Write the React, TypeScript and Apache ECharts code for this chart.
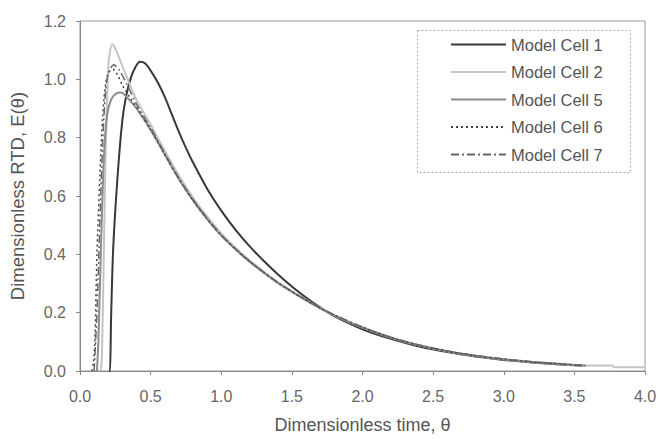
import React, { useEffect, useRef } from "react";
import * as echarts from "echarts";

const seriesNames = ["Model Cell 1", "Model Cell 2", "Model Cell 5", "Model Cell 6", "Model Cell 7"];

const cell1T = [0.205, 0.212, 0.22, 0.235, 0.265, 0.3, 0.33, 0.36, 0.39, 0.425, 0.46, 0.5, 0.55, 0.6, 0.65, 0.7, 0.75, 0.8, 0.9, 1.0, 1.1, 1.2, 1.3, 1.4, 1.5, 1.6, 1.7, 1.8, 2.0, 2.2, 2.4, 2.6, 2.8, 3.0, 3.2, 3.4, 3.55];
const cell1E = [0, 0, 0.18, 0.42, 0.66, 0.86, 0.95, 1.005, 1.04, 1.06, 1.055, 1.03, 0.99, 0.94, 0.88, 0.82, 0.765, 0.715, 0.625, 0.55, 0.485, 0.428, 0.378, 0.332, 0.29, 0.252, 0.218, 0.188, 0.143, 0.11, 0.084, 0.065, 0.05, 0.038, 0.029, 0.022, 0.018];

const cell2T = [0.148, 0.155, 0.165, 0.175, 0.185, 0.195, 0.205, 0.23, 0.255, 0.3, 0.35, 0.4, 0.5, 0.6, 0.7, 0.8, 0.9, 1.0, 1.1, 1.2, 1.3, 1.4, 1.5, 1.6, 1.7, 1.8, 2.0, 2.2, 2.4, 2.6, 2.8, 3.0, 3.2, 3.4, 3.58, 3.77, 3.78, 4.0];
const cell2E = [0, 0.05, 0.3, 0.58, 0.82, 0.98, 1.07, 1.12, 1.1, 1.045, 0.985, 0.93, 0.845, 0.755, 0.67, 0.595, 0.53, 0.472, 0.423, 0.38, 0.341, 0.305, 0.273, 0.244, 0.216, 0.191, 0.149, 0.115, 0.088, 0.068, 0.052, 0.04, 0.031, 0.024, 0.019, 0.019, 0.013, 0.013];

const cell5T = [0.12, 0.13, 0.15, 0.17, 0.19, 0.22, 0.26, 0.29, 0.33, 0.4, 0.5, 0.6, 0.7, 0.8, 0.9, 1.0, 1.1, 1.2, 1.3, 1.4, 1.5, 1.6, 1.7, 1.8, 2.0, 2.2, 2.4, 2.6, 2.8, 3.0, 3.2, 3.4, 3.58];
const cell5E = [0, 0.1, 0.45, 0.74, 0.87, 0.93, 0.953, 0.955, 0.94, 0.9, 0.826, 0.742, 0.658, 0.585, 0.521, 0.464, 0.417, 0.375, 0.337, 0.302, 0.271, 0.242, 0.215, 0.191, 0.149, 0.114, 0.088, 0.068, 0.052, 0.04, 0.031, 0.024, 0.018];

const cell6T = [0.085, 0.095, 0.105, 0.12, 0.14, 0.16, 0.18, 0.2, 0.23, 0.26, 0.3, 0.35, 0.4, 0.5, 0.6, 0.7, 0.8, 0.9, 1.0, 1.1, 1.2, 1.3, 1.4, 1.5, 1.6, 1.7, 1.8, 2.0, 2.2, 2.4, 2.6, 2.8, 3.0, 3.2, 3.4, 3.55];
const cell6E = [0, 0.03, 0.1, 0.4, 0.66, 0.87, 0.98, 1.02, 1.035, 1.02, 0.98, 0.94, 0.905, 0.828, 0.742, 0.658, 0.585, 0.521, 0.465, 0.418, 0.376, 0.338, 0.303, 0.272, 0.243, 0.216, 0.192, 0.15, 0.115, 0.088, 0.068, 0.052, 0.04, 0.031, 0.024, 0.019];

const cell7T = [0.1, 0.12, 0.14, 0.16, 0.18, 0.2, 0.24, 0.28, 0.33, 0.4, 0.5, 0.6, 0.7, 0.8, 0.9, 1.0, 1.1, 1.2, 1.3, 1.4, 1.5, 1.6, 1.7, 1.8, 2.0, 2.2, 2.4, 2.6, 2.8, 3.0, 3.2, 3.4, 3.58];
const cell7E = [0, 0.2, 0.5, 0.78, 0.95, 1.02, 1.05, 1.03, 0.985, 0.915, 0.834, 0.746, 0.661, 0.588, 0.524, 0.467, 0.42, 0.377, 0.339, 0.304, 0.273, 0.244, 0.217, 0.193, 0.15, 0.116, 0.089, 0.069, 0.053, 0.041, 0.032, 0.025, 0.019];

const pairs = (t: number[], e: number[]) => t.map((v, i) => [v, e[i]]);

export default function App() {
  const ref = useRef<HTMLDivElement>(null);
  useEffect(() => {
    if (!ref.current) return;
    const chart = echarts.init(ref.current, undefined, { renderer: "svg" });
    const font = "'Liberation Sans', Arial, Helvetica, sans-serif";
    const mk = (name: string, data: number[][], color: string, width: number, type: any) => ({
      name,
      type: "line",
      data,
      symbol: "none",
      showSymbol: false,
      smooth: 0.3,
      lineStyle: { color, width, type },
      itemStyle: { color },
      z: 3,
    });
    chart.setOption({
      animation: false,
      backgroundColor: "#fff",
      textStyle: { fontFamily: font },
      grid: { left: 80, right: 15, top: 21, bottom: 65, show: true, borderColor: "#999", borderWidth: 1 },
      xAxis: {
        type: "value",
        min: 0,
        max: 4,
        interval: 0.5,
        name: "Dimensionless time, θ",
        nameLocation: "middle",
        nameGap: 45,
        nameTextStyle: { fontSize: 18, color: "#555", fontFamily: font },
        axisLine: { show: true, lineStyle: { color: "#888" } },
        axisTick: { show: true, length: 4, lineStyle: { color: "#888" } },
        splitLine: { show: false },
        axisLabel: { fontSize: 16, color: "#666", margin: 17, formatter: (v: number) => v.toFixed(1) },
      },
      yAxis: {
        type: "value",
        min: 0,
        max: 1.2,
        interval: 0.2,
        name: "Dimensionless RTD, E(θ)",
        nameLocation: "middle",
        nameGap: 53,
        nameTextStyle: { fontSize: 18.5, color: "#555", fontFamily: font },
        axisLine: { show: true, lineStyle: { color: "#888" } },
        axisTick: { show: true, length: 4, lineStyle: { color: "#888" } },
        splitLine: { show: false },
        axisLabel: { fontSize: 16, color: "#666", margin: 14, formatter: (v: number) => v.toFixed(1) },
      },
      legend: {
        orient: "vertical",
        left: 450,
        top: 36,
        itemWidth: 55,
        itemHeight: 14,
        itemGap: 10.5,
        padding: 0,
        itemStyle: { opacity: 0 },
        textStyle: { fontSize: 16.5, color: "#555", fontFamily: font, lineHeight: 17 },
        data: seriesNames,
      },
      graphic: [
        {
          type: "rect",
          left: 417,
          top: 30,
          shape: { width: 213, height: 142 },
          style: { fill: "#fff", stroke: "#aaa", lineWidth: 1, lineDash: [2, 2] },
          z: 1,
        },
      ],
      series: [
        mk(seriesNames[0], pairs(cell1T, cell1E), "#383838", 2, "solid"),
        mk(seriesNames[1], pairs(cell2T, cell2E), "#c4c4c4", 2, "solid"),
        mk(seriesNames[2], pairs(cell5T, cell5E), "#8c8c8c", 2, "solid"),
        mk(seriesNames[3], pairs(cell6T, cell6E), "#444", 1.5, [2, 3]),
        mk(seriesNames[4], pairs(cell7T, cell7E), "#666", 1.5, [8, 3, 2, 3]),
      ],
    });
    return () => chart.dispose();
  }, []);
  return <div ref={ref} style={{ width: 660, height: 439, position: "absolute", left: 0, top: 0 }} />;
}
